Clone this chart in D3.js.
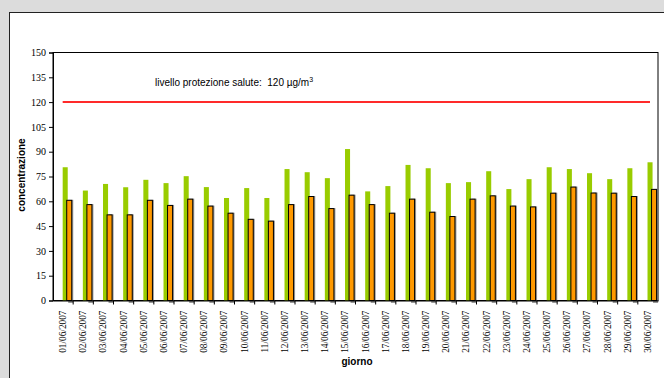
<!DOCTYPE html>
<html><head><meta charset="utf-8">
<script src="https://cdn.jsdelivr.net/npm/d3@7"></script>
<style>html,body{margin:0;padding:0;background:#dcdcdc;overflow:hidden}</style>
</head><body><svg id="c" width="664" height="378"></svg>
<script>
const days = ["01/06/2007","02/06/2007","03/06/2007","04/06/2007","05/06/2007","06/06/2007","07/06/2007","08/06/2007","09/06/2007","10/06/2007","11/06/2007","12/06/2007","13/06/2007","14/06/2007","15/06/2007","16/06/2007","17/06/2007","18/06/2007","19/06/2007","20/06/2007","21/06/2007","22/06/2007","23/06/2007","24/06/2007","25/06/2007","26/06/2007","27/06/2007","28/06/2007","29/06/2007","30/06/2007"];
const seriesGreen = [80.6,66.5,70.5,68.5,73,71,75.2,68.6,62,68,62,79.5,77.6,74,91.6,66,69.2,82,80,71,71.6,78.2,67.4,73.4,80.6,79.5,77,73.4,80,83.6];
const seriesOrange = [60.6,58,51.8,51.8,60.6,57.5,61.3,57.1,52.8,49.1,48,58,62.9,55.6,63.7,58,52.8,61.3,53.4,50.8,61.3,63.3,57.1,56.6,64.9,68.6,65,64.9,62.9,67.2];
const yTicks = [0,15,30,45,60,75,90,105,120,135,150];
const threshold = 120;
const thresholdLabel = "livello protezione salute:\u00a0\u00a0120 µg/m";

const svg = d3.select("#c");
// outer frame
svg.append("rect").attr("x",9.5).attr("y",12.5).attr("width",700).attr("height",400)
  .attr("fill","#fff").attr("stroke","#222").attr("stroke-width",1);

const L=53, R=658, T=52.5, B=300.5;
const x = d3.scaleBand().domain(days).range([L,R]).padding(0);
const y = d3.scaleLinear().domain([0,150]).range([B,T]);
const bw = x.bandwidth();

const g = svg.append("g");
// plot border
g.append("rect").attr("x",L).attr("y",T).attr("width",R-L).attr("height",B-T)
  .attr("fill","#fff").attr("stroke","#000").attr("stroke-width",1);

// green bars
g.selectAll(".gb").data(seriesGreen).join("rect")
  .attr("x",(d,i)=>x(days[i])+bw*0.48).attr("width",bw*0.25)
  .attr("y",d=>y(d)).attr("height",d=>B-y(d)).attr("fill","#99cc00");
// shadows
g.selectAll(".sh").data(seriesOrange).join("rect")
  .attr("x",(d,i)=>x(days[i])+bw*0.68+1.5).attr("width",bw*0.25)
  .attr("y",d=>y(d)-0.5).attr("height",d=>B-y(d)+3).attr("fill","#777").attr("opacity",0.75);
// orange bars
g.selectAll(".ob").data(seriesOrange).join("rect")
  .attr("x",(d,i)=>x(days[i])+bw*0.68).attr("width",bw*0.25)
  .attr("y",d=>y(d)).attr("height",d=>B-y(d)).attr("fill","#ff9900")
  .attr("stroke","#000").attr("stroke-width",1);

// threshold line
g.append("line").attr("x1",x(days[0])+bw*0.48).attr("x2",R-8)
  .attr("y1",y(threshold)).attr("y2",y(threshold)).attr("stroke","#ff2a2a").attr("stroke-width",2);
const tl = g.append("text").attr("x",155).attr("y",86)
  .attr("font-family","Liberation Sans, Arial, sans-serif").attr("font-size",10).attr("fill","#000")
  .text(thresholdLabel);
tl.append("tspan").attr("dy",-4).attr("font-size",7).text("3");

// y axis
const ya = g.append("g").attr("transform",`translate(${L},0)`)
  .call(d3.axisLeft(y).tickValues(yTicks).tickSize(4).tickPadding(3));
ya.select(".domain").attr("stroke","#000");
ya.selectAll("text").attr("font-family","Liberation Serif, Times New Roman, serif").attr("font-size",10).attr("fill","#000");

// x axis
const xa = g.append("g").attr("transform",`translate(0,${B})`)
  .call(d3.axisBottom(x).tickSize(0).tickFormat(d=>d));
xa.select(".domain").attr("stroke","#000");
xa.selectAll("text")
  .attr("font-family","Liberation Serif, Times New Roman, serif").attr("font-size",9.3).attr("fill","#000")
  .attr("transform","rotate(-90)").attr("text-anchor","end").attr("x",-10).attr("y",0).attr("dy","0.33em");
// category boundary ticks
g.selectAll(".xt").data(days.slice(1)).join("line")
  .attr("x1",d=>x(d)).attr("x2",d=>x(d)).attr("y1",B).attr("y2",B+4).attr("stroke","#000");

// axis titles
svg.append("text").attr("x",357).attr("y",365).attr("text-anchor","middle")
  .attr("font-family","Liberation Sans, Arial, sans-serif").attr("font-weight","bold").attr("font-size",10)
  .text("giorno");
svg.append("text").attr("transform","translate(25,175) rotate(-90)").attr("text-anchor","middle")
  .attr("font-family","Liberation Sans, Arial, sans-serif").attr("font-weight","bold").attr("font-size",10)
  .text("concentrazione");
</script></body></html>
